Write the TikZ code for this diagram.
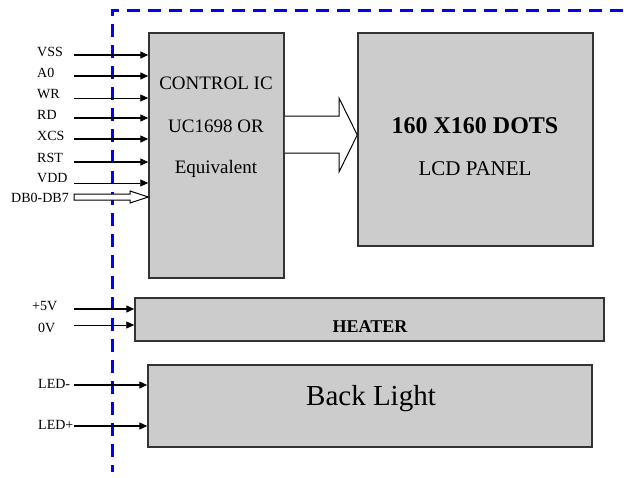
\documentclass[tikz,border=0pt]{standalone}
\usepackage{fontspec}
\setmainfont{Liberation Serif}
\usetikzlibrary{arrows.meta}
\definecolor{cajagris}{HTML}{CCCCCC}
\definecolor{bordegris}{HTML}{333333}
\tikzset{
  caja/.style={draw=bordegris, line width=1.5pt, fill=cajagris, inner sep=0pt},
  senal/.style={line width=1.4pt, -{Triangle[length=8pt,width=7pt]}},
  fina/.style={line width=0.9pt},
  etiqueta/.style={anchor=base west, inner sep=0pt, font=\fontsize{14}{16}\selectfont},
  texto/.style={anchor=base, inner sep=0pt},
  hueca/.style={draw=black, line width=1pt, fill=white, line join=miter},
  limite/.style={draw=blue, line width=3pt, dash pattern=on 13pt off 8pt, dash phase=6pt},
}
\begin{document}
\begin{tikzpicture}[x=1pt,y=-1pt]
    \useasboundingbox (0,0) rectangle (624,477);
    % Limite del modulo
    \draw[limite] (112,472) -- (112,10) -- (624,10);
    % Bloques
    \node[caja, minimum width=135pt, minimum height=245pt] (ctrl) at (216.5,155.5) {};
    \node[caja, minimum width=235pt, minimum height=213pt] (lcd) at (475.5,139.5) {};
    \node[caja, minimum width=469pt, minimum height=43pt] (heater) at (369.5,319.5) {};
    \node[caja, minimum width=444pt, minimum height=82pt] (luz) at (370,406) {};
    % Textos de los bloques
    \node[texto, font=\fontsize{19}{22}\selectfont] (tctrla) at (216,89) {CONTROL IC};
    \node[texto, font=\fontsize{19}{22}\selectfont] (tctrlb) at (216,132) {UC1698 OR};
    \node[texto, font=\fontsize{19}{22}\selectfont] (tctrlc) at (216,173) {Equivalent};
    \node[texto, font=\fontsize{24}{28}\selectfont\bfseries] (tlcda) at (475,133) {160 X160 DOTS};
    \node[texto, font=\fontsize{21}{24}\selectfont] (tlcdb) at (475,175) {LCD PANEL};
    \node[texto, font=\fontsize{18}{21}\selectfont\bfseries] (theater) at (370,332) {HEATER};
    \node[texto, font=\fontsize{29}{33}\selectfont] (tluz) at (371,405) {Back Light};
    % Senales del control IC
    \node[etiqueta] (lvss) at (37,56) {VSS};
    \node[etiqueta] (la0) at (37,77) {A0};
    \node[etiqueta] (lwr) at (37,98) {WR};
    \node[etiqueta] (lrd) at (37,119) {RD};
    \node[etiqueta] (lxcs) at (37,140) {XCS};
    \node[etiqueta] (lrst) at (37,162) {RST};
    \node[etiqueta] (lvdd) at (37,182) {VDD};
    \node[etiqueta, anchor=base east] (ldb) at (69,202) {DB0-DB7};
    \coordinate (vss) at (74,55);
    \coordinate (a0) at (74,76);
    \coordinate (wr) at (74,98);
    \coordinate (rd) at (74,118);
    \coordinate (xcs) at (74,139);
    \coordinate (rst) at (74,162);
    \coordinate (vdd) at (74,183);
    \coordinate (db) at (74,197);
    \draw[senal] (vss) -- (vss -| ctrl.west);
    \draw[senal] (a0) -- (a0 -| ctrl.west);
    \draw[senal, fina] (wr) -- (wr -| ctrl.west);
    \draw[senal] (rd) -- (rd -| ctrl.west);
    \draw[senal] (xcs) -- (xcs -| ctrl.west);
    \draw[senal] (rst) -- (rst -| ctrl.west);
    \draw[senal, fina] (vdd) -- (vdd -| ctrl.west);
    \draw[hueca] (db) ++(0,-3) -- ++(56,0) -- ++(0,-3) -- (db -| ctrl.west)
        -- (130,203) -- (130,200) -- (74,200) -- cycle;
    % Bus hacia el panel
    \coordinate (busa) at (ctrl.east |- 0,116);
    \coordinate (busb) at (ctrl.east |- 0,153);
    \draw[hueca] (busa) -- (339,116) -- (339,98) -- (lcd.west |- 0,135)
        -- (339,172) -- (339,153) -- (busb);
    % Senales del calefactor
    \node[etiqueta] (l5v) at (32,310) {+5V};
    \node[etiqueta] (l0v) at (38,332) {0V};
    \coordinate (cinco) at (74,309);
    \coordinate (cero) at (74,325);
    \draw[senal] (cinco) -- (cinco -| heater.west);
    \draw[senal, fina] (cero) -- (cero -| heater.west);
    % Senales de la luz de fondo
    \node[etiqueta] (lledm) at (38,388) {LED-};
    \node[etiqueta] (lledp) at (38,429) {LED+};
    \coordinate (ledm) at (74,385);
    \coordinate (ledp) at (74,426);
    \draw[senal] (ledm) -- (ledm -| luz.west);
    \draw[senal] (ledp) -- (ledp -| luz.west);
\end{tikzpicture}
\end{document}
